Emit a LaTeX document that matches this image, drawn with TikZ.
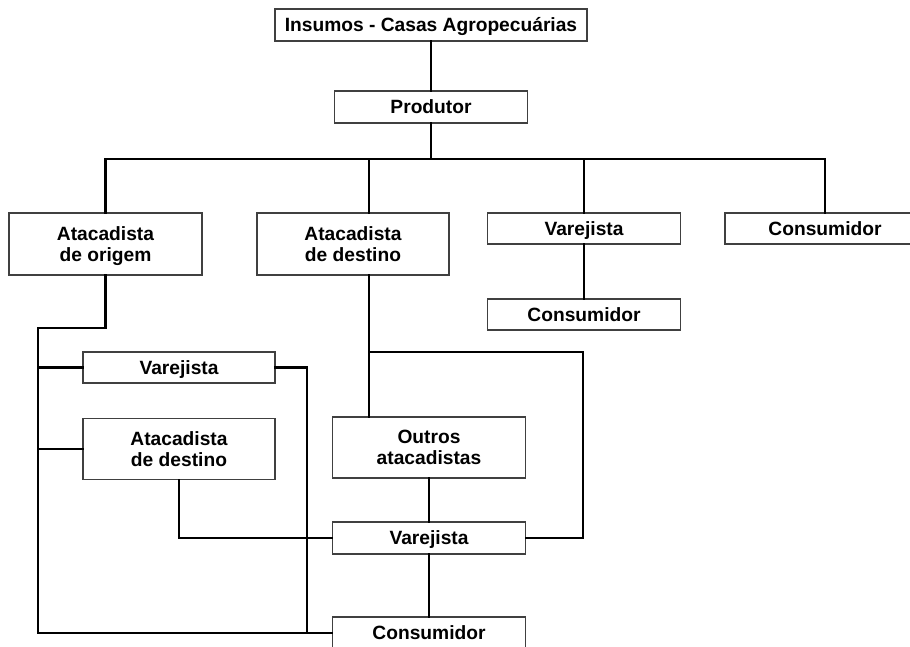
\documentclass[tikz,border=0pt]{standalone}
\usepackage{fontspec}
\setmainfont{Liberation Sans}
\usetikzlibrary{positioning}

\tikzset{
  box/.style={draw=black!75, line width=1.2pt, fill=white, align=center,
    inner sep=0pt, minimum width=193pt, minimum height=31pt,
    text height=13.8pt, text depth=0pt,
    font=\fontsize{19.2}{21}\selectfont\bfseries},
  tallbox/.style={box, minimum height=62pt, text height=34.8pt},
  link/.style={line width=2.7pt, line cap=rect}
}

\begin{document}
\begin{tikzpicture}[x=1pt,y=-1pt]

  \useasboundingbox (0,0) rectangle (910,647);

  % Nodes

  \node[box,minimum width=312pt,minimum height=32pt] (ins) at (431,25) {Insumos - Casas Agropecuárias};
  \node[box,minimum height=32pt] (prod) at (431,107) {Produtor};

  \node[tallbox] (atorig) at (105.5,244) {Atacadista\\de origem};
  \node[tallbox,minimum width=192pt] (atdest) at (353,244) {Atacadista\\de destino};
  \node[box] (var1) at (584,228.5) {Varejista};
  \node[box,minimum width=200pt] (cons1) at (825,228.5) {Consumidor};
  \node[box] (cons2) at (584,314.5) {Consumidor};

  \node[box,minimum width=192pt] (var2) at (179,367.5) {Varejista};
  \node[tallbox,minimum width=192pt,minimum height=61pt] (atdest2) at (179,449) {Atacadista\\de destino};

  \node[tallbox,minimum height=61pt] (outros) at (429,447.5) {Outros\\atacadistas};
  \node[box,minimum height=32pt] (var3) at (429,538) {Varejista};
  \node[box,minimum height=32pt] (cons3) at (429,633) {Consumidor};

  % Junctions

  \coordinate (bus) at (431,159);
  \coordinate (trunk) at (38,328);
  \coordinate (rdrop) at (307,0);
  \coordinate (split) at (369,352);
  \coordinate (turn) at (583,352);

  % Edges

  \draw[link] (ins) -- (prod);
  \draw[link] (prod) -- (bus);
  \draw[link] (atorig.north) |- (bus) -| (cons1.north);
  \draw[link] ([xshift=16pt]atdest.north) -- ([xshift=16pt]atdest.north |- bus);
  \draw[link] (var1.north) -- (var1.north |- bus);
  \draw[link] (var1) -- (cons2);

  \draw[link] (atorig.south) |- (trunk) |- (cons3.west);
  \draw[link] (var2.west) -- (var2.west -| trunk);
  \draw[link] (atdest2.west) -- (atdest2.west -| trunk);
  \draw[link] (var2.east) -| (rdrop |- cons3.west);
  \draw[link] (atdest2.south) |- (var3.west);

  \draw[link] ([xshift=16pt]atdest.south) -- ([xshift=16pt]atdest.south |- outros.north);
  \draw[link] (split) -- (turn) |- (var3.east);
  \draw[link] (outros) -- (var3);
  \draw[link] (var3) -- (cons3);

\end{tikzpicture}
\end{document}
